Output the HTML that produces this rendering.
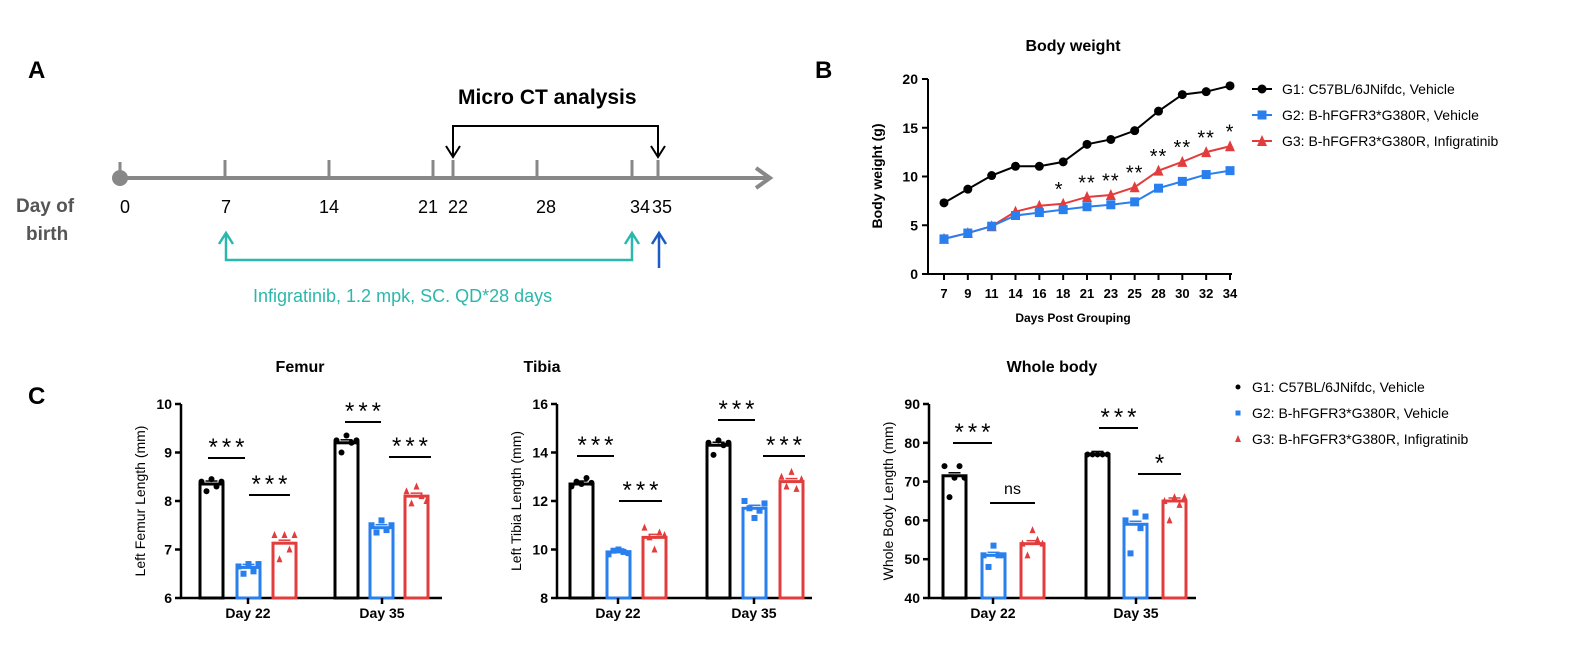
<!DOCTYPE html>
<html><head><meta charset="utf-8"><style>
html,body{margin:0;padding:0;background:#fff;width:1589px;height:667px;overflow:hidden}
text{font-family:"Liberation Sans",Arial,sans-serif}
</style></head><body>
<svg id="s" width="1589" height="667" viewBox="0 0 1589 667" xmlns="http://www.w3.org/2000/svg">
<text x="28" y="78" font-size="24" font-weight="bold">A</text>
<text x="458" y="104" font-size="21" font-weight="bold">Micro CT analysis</text>
<polyline points="453,157 453,126 658,126 658,157" fill="none" stroke="#000" stroke-width="2"/>
<polyline points="446,146 453,157 460,146" fill="none" stroke="#000" stroke-width="2"/>
<polyline points="651,146 658,157 665,146" fill="none" stroke="#000" stroke-width="2"/>
<line x1="120" y1="178" x2="768" y2="178" stroke="#888" stroke-width="4"/>
<polyline points="756,168 770,178 756,188" fill="none" stroke="#888" stroke-width="4"/>
<circle cx="120" cy="178" r="8" fill="#888"/>
<g stroke="#888" stroke-width="3">
<line x1="120" y1="162" x2="120" y2="176"/><line x1="225" y1="160" x2="225" y2="176"/><line x1="329" y1="160" x2="329" y2="176"/>
<line x1="433" y1="160" x2="433" y2="176"/><line x1="453" y1="160" x2="453" y2="176"/><line x1="537" y1="160" x2="537" y2="176"/>
<line x1="632" y1="160" x2="632" y2="176"/><line x1="658" y1="160" x2="658" y2="176"/></g>
<g font-size="18" text-anchor="middle">
<text x="125" y="213">0</text><text x="226" y="213">7</text><text x="329" y="213">14</text><text x="428" y="213">21</text>
<text x="458" y="213">22</text><text x="546" y="213">28</text><text x="640" y="213">34</text><text x="662" y="213">35</text></g>
<text x="16" y="212" font-size="19" font-weight="bold" fill="#555">Day of</text>
<text x="26" y="240" font-size="19" font-weight="bold" fill="#555">birth</text>
<polyline points="226,234 226,260 632,260 632,234" fill="none" stroke="#2bb8ac" stroke-width="2.5"/>
<polyline points="219,244 226,233 233,244" fill="none" stroke="#2bb8ac" stroke-width="2.5"/>
<polyline points="625,244 632,233 639,244" fill="none" stroke="#2bb8ac" stroke-width="2.5"/>
<line x1="659" y1="234" x2="659" y2="268" stroke="#1a5bc4" stroke-width="2.5"/>
<polyline points="652,244 659,233 666,244" fill="none" stroke="#1a5bc4" stroke-width="2.5"/>
<text x="253" y="302" font-size="18" fill="#2bb8ac">Infigratinib, 1.2 mpk, SC. QD*28 days</text>
<text x="815" y="78" font-size="24" font-weight="bold">B</text>
<text x="1073" y="51" font-size="16" font-weight="bold" text-anchor="middle">Body weight</text>
<text x="1073" y="322" font-size="12" font-weight="bold" text-anchor="middle">Days Post Grouping</text>
<text transform="translate(882,176) rotate(-90)" font-size="14" font-weight="bold" text-anchor="middle">Body weight (g)</text>
<text x="28" y="404" font-size="24" font-weight="bold">C</text>
<g id="g"></g>
</svg>
<script>
var g=document.getElementById('g'),h='';
function L(x1,y1,x2,y2,c,w){h+='<line x1="'+x1+'" y1="'+y1+'" x2="'+x2+'" y2="'+y2+'" stroke="'+c+'" stroke-width="'+(w||2)+'"/>';}
function T(x,y,t,s,a,b,c,ls){h+='<text x="'+x+'" y="'+y+'" font-size="'+s+'" text-anchor="'+(a||'middle')+'"'+(b?' font-weight="bold"':'')+(c?' fill="'+c+'"':'')+(ls?' letter-spacing="'+ls+'"':'')+'>'+t+'</text>';}
var K='#000',BL='#2a7fee',RD='#e23c3c';
function mk(t,x,y,c,s){s=s||4;if(t==0)h+='<circle cx="'+x+'" cy="'+y+'" r="'+s+'" fill="'+c+'"/>';else if(t==1)h+='<rect x="'+(x-s)+'" y="'+(y-s)+'" width="'+2*s+'" height="'+2*s+'" fill="'+c+'"/>';else h+='<polygon points="'+x+','+(y-s-1)+' '+(x-s)+','+(y+s)+' '+(x+s)+','+(y+s)+'" fill="'+c+'"/>';}
var ax=928,y0=274,sc=(274-79)/20,xs=[7,9,11,14,16,18,21,23,25,28,30,32,34];
L(ax,79,ax,275,K,2);L(ax-1,274,1232,274,K,2);
for(var i=0;i<=4;i++){var yy=y0-i*5*sc;L(ax-6,yy,ax,yy,K,2);T(ax-10,yy+5,i*5,14,'end',1);}
var G1=[7.3,8.7,10.1,11.05,11.05,11.5,13.3,13.8,14.7,16.7,18.4,18.7,19.3],
G3=[3.6,4.2,4.9,6.4,7.0,7.2,7.9,8.1,8.9,10.6,11.5,12.5,13.1],
G2=[3.6,4.2,4.9,6.0,6.3,6.6,6.9,7.1,7.4,8.8,9.5,10.2,10.6];
function X(i){return 944+i*(1230-944)/12;}
function line(d,c,t){var p='';for(var i=0;i<d.length;i++)p+=X(i)+','+(y0-d[i]*sc)+' ';h+='<polyline points="'+p+'" fill="none" stroke="'+c+'" stroke-width="2"/>';for(i=0;i<d.length;i++)mk(t,X(i),y0-d[i]*sc,c,t==2?5:4.5);}
for(i=0;i<13;i++){L(X(i),274,X(i),280,K,2);T(X(i),298,xs[i],13,'middle',1);}
line(G1,K,0);line(G3,RD,2);line(G2,BL,1);
var st=['','','','','','*','**','**','**','**','**','**','*'];
for(i=0;i<13;i++)if(st[i])T(X(i)-(i==5?4:0),y0-(G3[i]+1.4)*sc+6,st[i],20,'middle',0,0,1);
L(1252,89,1272,89,K,2);mk(0,1262,89,K,4.5);T(1282,94,'G1: C57BL/6JNifdc, Vehicle',14,'start');
L(1252,115,1272,115,BL,2);mk(1,1262,115,BL,4.5);T(1282,120,'G2: B-hFGFR3*G380R, Vehicle',14,'start');
L(1252,141,1272,141,RD,2);mk(2,1262,141,RD,5);T(1282,146,'G3: B-hFGFR3*G380R, Infigratinib',14,'start');
function chart(o){var ax=o.ax,yt=404,yb=598,r=(yb-yt)/(o.max-o.min);function Y(v){return yb-(v-o.min)*r;}
T(o.tx,372,o.title,16,'middle',1);
h+='<text transform="translate('+(ax-36)+',501) rotate(-90)" font-size="14" text-anchor="middle">'+o.yl+'</text>';
L(ax,yt,ax,yb+1,K,2.5);L(ax-1,yb,o.end,yb,K,2.5);
for(var v=o.min;v<=o.max;v+=o.step){L(ax-6,Y(v),ax,Y(v),K,2.5);T(ax-9,Y(v)+5,v,14,'end',1);}
var cols=[K,BL,RD];
for(var i=0;i<6;i++){var x=o.bx[i],c=cols[i%3],v=o.v[i],w=23;
h+='<rect x="'+x+'" y="'+Y(v)+'" width="'+w+'" height="'+(yb-Y(v))+'" fill="none" stroke="'+c+'" stroke-width="3"/>';
var cx=x+w/2;L(cx-6,Y(v)-3,cx+6,Y(v)-3,c,1.5);
var pts=o.p[i];for(var j=0;j<pts.length;j++)mk(i%3,cx-10+j*5,Y(pts[j]),c,3);}
L(o.c[0],yb,o.c[0],yb+6,K,2.5);L(o.c[1],yb,o.c[1],yb+6,K,2.5);
T(o.c[0],618,'Day 22',14,'middle',1);T(o.c[1],618,'Day 35',14,'middle',1);
for(i=0;i<o.s.length;i++){var s=o.s[i];L(s[0],s[1],s[2],s[1],K,2);
if(s[3]=='ns')T((s[0]+s[2])/2,s[1]-9,'ns',16,'middle');else T((s[0]+s[2])/2+2,s[1]-3,s[3],24,'middle',0,0,4);}}
chart({ax:181,end:442,min:6,max:10,step:1,tx:300,title:'Femur',yl:'Left Femur Length (mm)',c:[248,382],
bx:[200,237,273,335,370,405],v:[8.35,6.63,7.13,9.2,7.45,8.1],
p:[[8.4,8.2,8.45,8.3,8.4],[6.65,6.5,6.7,6.55,6.7],[7.3,6.8,7.3,7.0,7.3],[9.25,9.0,9.35,9.2,9.25],[7.5,7.35,7.6,7.4,7.5],[8.2,7.95,8.3,8.1,8.0]],
s:[[208,458,245,'***'],[249,495,290,'***'],[345,422,381,'***'],[389,457,431,'***']]});
chart({ax:557,end:812,min:8,max:16,step:2,tx:542,title:'Tibia',yl:'Left Tibia Length (mm)',c:[618,754],
bx:[570,607,643,707,743,780],v:[12.7,9.9,10.5,14.3,11.7,12.8],
p:[[12.6,12.8,12.7,12.95,12.75],[9.8,9.95,10.0,9.9,9.85],[10.9,10.5,10.0,10.7,10.6],[14.4,13.9,14.5,14.3,14.4],[12.0,11.7,11.3,11.6,11.9],[13.0,12.6,13.2,12.5,12.9]],
s:[[577,456,614,'***'],[619,501,662,'***'],[718,420,755,'***'],[763,456,805,'***']]});
chart({ax:929,end:1196,min:40,max:90,step:10,tx:1052,title:'Whole body',yl:'Whole Body Length (mm)',c:[993,1136],
bx:[943,982,1021,1086,1124,1163],v:[71.5,51,54,77,59,65],
p:[[74,66,71,74,71],[51,48,53.5,51,51],[54,51,57.5,55,54],[77,77,77,77,77],[60,51.5,62,58,61],[65,60,66,64,66]],
s:[[953,443,992,'***'],[990,503,1035,'ns'],[1099,428,1138,'***'],[1138,474,1181,'*']]});
mk(0,1238,387,K,2.5);T(1252,392,'G1: C57BL/6JNifdc, Vehicle',14,'start');
mk(1,1238,413,BL,2.5);T(1252,418,'G2: B-hFGFR3*G380R, Vehicle',14,'start');
mk(2,1238,439,RD,3);T(1252,444,'G3: B-hFGFR3*G380R, Infigratinib',14,'start');
g.innerHTML=h;
</script>
</body></html>
